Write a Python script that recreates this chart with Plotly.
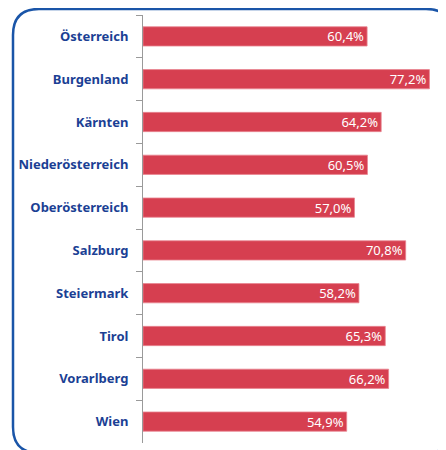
import plotly.graph_objects as go

categories = ["Österreich", "Burgenland", "Kärnten", "Niederösterreich", "Oberösterreich",
              "Salzburg", "Steiermark", "Tirol", "Vorarlberg", "Wien"]
values = [60.4, 77.2, 64.2, 60.5, 57.0, 70.8, 58.2, 65.3, 66.2, 54.9]
labels = [f"{v:.1f}%".replace(".", ",") for v in values]

OFF = 8  # page body margin
W, H = 446 - OFF, 450 - OFF

def px(x):
    return (x - OFF) / W

def py(y):
    return 1 - (y - OFF) / H

fig = go.Figure(go.Bar(
    x=values, y=categories, orientation="h",
    marker=dict(color="#d63f50", line=dict(color="#e98590", width=0.8)),
    text=labels, textposition="inside", insidetextanchor="end",
    constraintext="none",
    textfont=dict(color="white", size=13, family="Noto Sans"),
    hoverinfo="skip",
))

# rounded border
x0, x1, y0, y1, r = 13, 452, 9, 453, 26
path = (f"M {px(x0+r)},{py(y0)} L {px(x1-r)},{py(y0)} "
        f"Q {px(x1)},{py(y0)} {px(x1)},{py(y0+r)} "
        f"L {px(x1)},{py(y1-r)} Q {px(x1)},{py(y1)} {px(x1-r)},{py(y1)} "
        f"L {px(x0+r)},{py(y1)} Q {px(x0)},{py(y1)} {px(x0)},{py(y1-r)} "
        f"L {px(x0)},{py(y0+r)} Q {px(x0)},{py(y0)} {px(x0+r)},{py(y0)} Z")

fig.update_layout(
    width=W, height=H,
    margin=dict(l=0, r=0, t=0, b=0),
    paper_bgcolor="white", plot_bgcolor="white",
    bargap=0.55,
    showlegend=False,
    xaxis=dict(domain=[px(143), px(443)], range=[0, 80.86], visible=False, fixedrange=True),
    yaxis=dict(domain=[py(443), py(15)], autorange="reversed", showline=True,
               linecolor="#9a9a9a", linewidth=1, ticks="outside", tickson="boundaries",
               ticklen=6, tickcolor="#9a9a9a", showgrid=False, automargin=False,
               ticklabelstandoff=11,
               tickfont=dict(color="#1b3f94", size=13, family="Noto Sans", weight="bold")),
    shapes=[dict(type="path", path=path, xref="paper", yref="paper",
                 line=dict(color="#1a55a8", width=2.5), layer="below")],
)

fig.write_html("out.html")
